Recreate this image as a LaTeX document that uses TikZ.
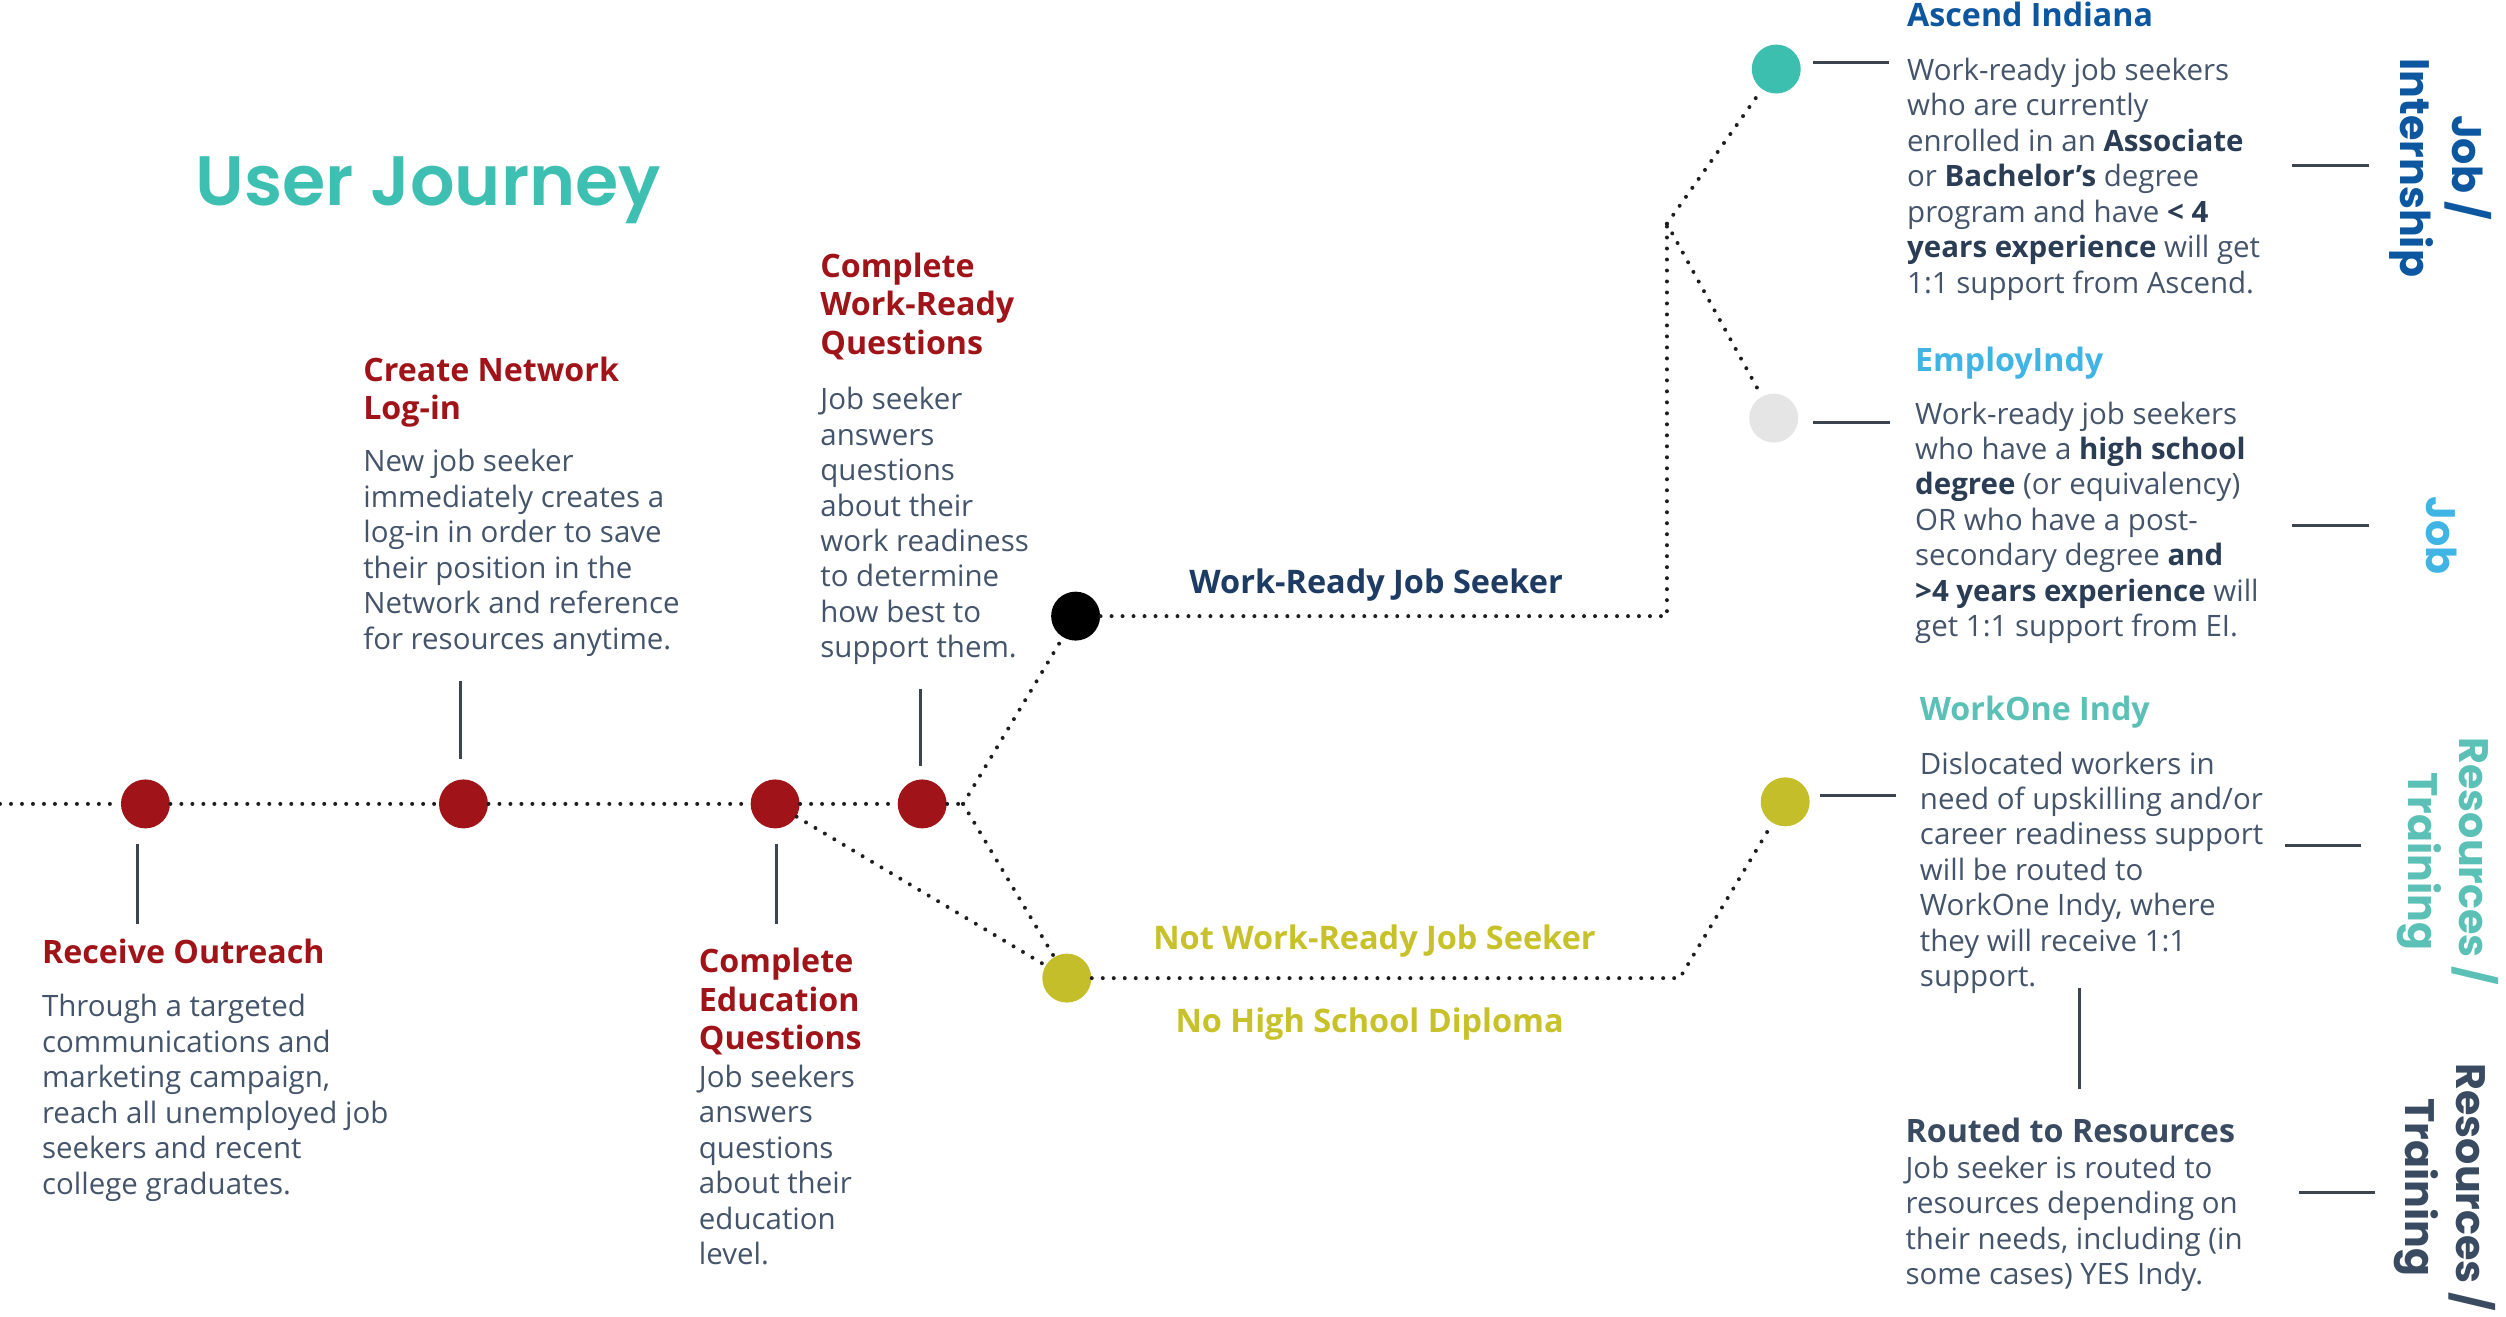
\documentclass[tikz,border=0pt]{standalone}
\usepackage{fontspec}
\setmainfont{Open Sans}
\newfontfamily\headfont{Poppins SemiBold}
\newfontfamily\sidefont{Poppins Bold}

\definecolor{jred}{HTML}{A01419}
\definecolor{bodytext}{HTML}{44546A}
\definecolor{bolddark}{HTML}{2B3D55}
\definecolor{navy}{HTML}{1D3B63}
\definecolor{ascendblue}{HTML}{0D57A0}
\definecolor{eiblue}{HTML}{40B4E5}
\definecolor{woteal}{HTML}{5BC0B5}
\definecolor{titleteal}{HTML}{3DBFB1}
\definecolor{olive}{HTML}{C7C12A}
\definecolor{oliveDot}{HTML}{C4BE2B}
\definecolor{paleGrey}{HTML}{E5E5E5}
\definecolor{tealDot}{HTML}{3CBFAF}
\definecolor{pathgray}{HTML}{1E1E1E}
\definecolor{tickgray}{HTML}{3C4450}
\definecolor{slate}{HTML}{3A4A60}

\newcommand\kw[1]{\textbf{\color{bolddark}#1}}

\begin{document}
\begin{tikzpicture}[x=0.64pt,y=-0.64pt,
  stop/.style={circle,inner sep=0pt,minimum size=19.6pt},
  route/.style={line width=1.6pt,line cap=round,dash pattern=on 0pt off 4.4pt,color=pathgray},
  tick/.style={line width=1.2pt,color=tickgray},
  head/.style={anchor=north west,inner sep=0pt,align=left,
    font=\fontsize{12.9}{15.4}\selectfont\bfseries,text=jred},
  body/.style={anchor=north west,inner sep=0pt,align=left,
    font=\fontsize{11.8}{14.2}\selectfont,text=bodytext},
  branch/.style={inner sep=0pt,font=\fontsize{13}{15.4}\selectfont\bfseries},
  side/.style={rotate=-90,align=center,inner sep=0pt,
    font=\fontsize{16.5}{20.5}\sidefont}
]
\useasboundingbox (0,0) rectangle (1568,824);

% title
\node[anchor=base west,inner sep=0pt,text=titleteal,
  font=\fontsize{28}{30}\headfont] (title) at (122,128.5) {User Journey};

% journey stops
\node[stop,fill=jred] (r1) at (91,503) {};
\node[stop,fill=jred] (r2) at (290,503) {};
\node[stop,fill=jred] (r3) at (485,503) {};
\node[stop,fill=jred] (r4) at (577,503) {};
\node[stop,fill=black] (blk) at (673,385.5) {};
\node[stop,fill=oliveDot] (ylw) at (667.5,612) {};
\node[stop,fill=tealDot] (asc) at (1111.4,43.2) {};
\node[stop,fill=paleGrey] (emp) at (1109.8,261.6) {};
\node[stop,fill=oliveDot] (wo) at (1117,501.7) {};

% route junctions
\coordinate (start) at (0,503);
\coordinate (fork) at (602.6,503);
\coordinate (wrTurn) at (1043,385.5);
\coordinate (wrTop) at (1043,140);
\coordinate (nwTurn) at (1051,612);

% dotted routes
\draw[route] (start) -- (r1) -- (r2) -- (r3) -- (r4) -- (fork);
\draw[route] (fork) -- (blk);
\draw[route] (fork) -- (ylw);
\draw[route] (r3) -- (ylw);
\draw[route] (blk) -- (wrTurn) -- (wrTop);
\draw[route] (wrTop) -- (asc);
\draw[route] (wrTop) -- (emp);
\draw[route] (ylw) -- (nwTurn) -- (wo);

% step texts
\node[head] (h1) at (26,587) {Receive Outreach};
\node[body] (b1) at (26,622) {Through a targeted\\communications and\\marketing campaign,\\reach all unemployed job\\seekers and recent\\college graduates.};

\node[head] (h2) at (227,223) {Create Network\\Log-in};
\node[body] (b2) at (227,281) {New job seeker\\immediately creates a\\log-in in order to save\\their position in the\\Network and reference\\for resources anytime.};

\node[head] (h3) at (513,158) {Complete\\Work-Ready\\Questions};
\node[body] (b3) at (513,242) {Job seeker\\answers\\questions\\about their\\work readiness\\to determine\\how best to\\support them.};

\node[head] (h4) at (437,593) {Complete\\Education\\Questions};
\node[body] (b4) at (437,666) {Job seekers\\answers\\questions\\about their\\education\\level.};

% ticks between stops and texts
\coordinate (t1a) at (86,528);  \coordinate (t1b) at (86,578);
\coordinate (t2a) at (288,426); \coordinate (t2b) at (288,475);
\coordinate (t3a) at (485.7,528); \coordinate (t3b) at (485.7,578);
\coordinate (t4a) at (576,431); \coordinate (t4b) at (576,479);
\draw[tick] (t1a) -- (t1b);
\draw[tick] (t2a) -- (t2b);
\draw[tick] (t3a) -- (t3b);
\draw[tick] (t4a) -- (t4b);

% branch labels
\node[branch,text=navy] (lwr) at (861,366) {Work-Ready Job Seeker};
\node[branch,text=olive] (lnwr) at (860,589) {Not Work-Ready Job Seeker};
\node[branch,text=olive] (lnhs) at (857,641) {No High School Diploma};

% partner texts
\node[head,text=ascendblue] (h5) at (1193,1) {Ascend Indiana};
\node[body] (b5) at (1193,36) {Work-ready job seekers\\who are currently\\enrolled in an \kw{Associate}\\or \kw{Bachelor's} degree\\program and have \kw{< 4}\\\kw{years experience} will get\\1:1 support from Ascend.};

\node[head,text=eiblue] (h6) at (1198,217) {EmployIndy};
\node[body] (b6) at (1198,251) {Work-ready job seekers\\who have a \kw{high school}\\\kw{degree} (or equivalency)\\OR who have a post-\\secondary degree \kw{and}\\\kw{>4 years experience} will\\get 1:1 support from EI.};

\node[head,text=woteal] (h7) at (1201,435) {WorkOne Indy};
\node[body] (b7) at (1201,470) {Dislocated workers in\\need of upskilling and/or\\career readiness support\\will be routed to\\WorkOne Indy, where\\they will receive 1:1\\support.};

\node[head,text=slate] (h8) at (1192,699) {Routed to Resources};
\node[body] (b8) at (1192,723) {Job seeker is routed to\\resources depending on\\their needs, including (in\\some cases) YES Indy.};

% partner ticks
\coordinate (p1a) at (1134.6,39);  \coordinate (p1b) at (1182,39);
\coordinate (p2a) at (1134.6,264.5); \coordinate (p2b) at (1182.5,264.5);
\coordinate (p3a) at (1138.5,498); \coordinate (p3b) at (1186,498);
\coordinate (p4a) at (1301,618); \coordinate (p4b) at (1301,681.5);
\draw[tick] (p1a) -- (p1b);
\draw[tick] (p2a) -- (p2b);
\draw[tick] (p3a) -- (p3b);
\draw[tick] (p4a) -- (p4b);

% outcome ticks
\coordinate (o1a) at (1434,103.7); \coordinate (o1b) at (1482,103.7);
\coordinate (o2a) at (1434,329);   \coordinate (o2b) at (1482,329);
\coordinate (o3a) at (1429.6,529); \coordinate (o3b) at (1477,529);
\coordinate (o4a) at (1438.7,746); \coordinate (o4b) at (1486,746);
\draw[tick] (o1a) -- (o1b);
\draw[tick] (o2a) -- (o2b);
\draw[tick] (o3a) -- (o3b);
\draw[tick] (o4a) -- (o4b);

% outcome labels
\node[side,text=ascendblue] (s1) at (1527,105) {Job /\\Internship};
\node[side,text=eiblue] (s2) at (1527.5,335) {Job};
\node[side,text=woteal] (s3) at (1531.5,539) {Resources /\\Training};
\node[side,text=slate] (s4) at (1530,743) {Resources /\\Training};
\end{tikzpicture}
\end{document}
